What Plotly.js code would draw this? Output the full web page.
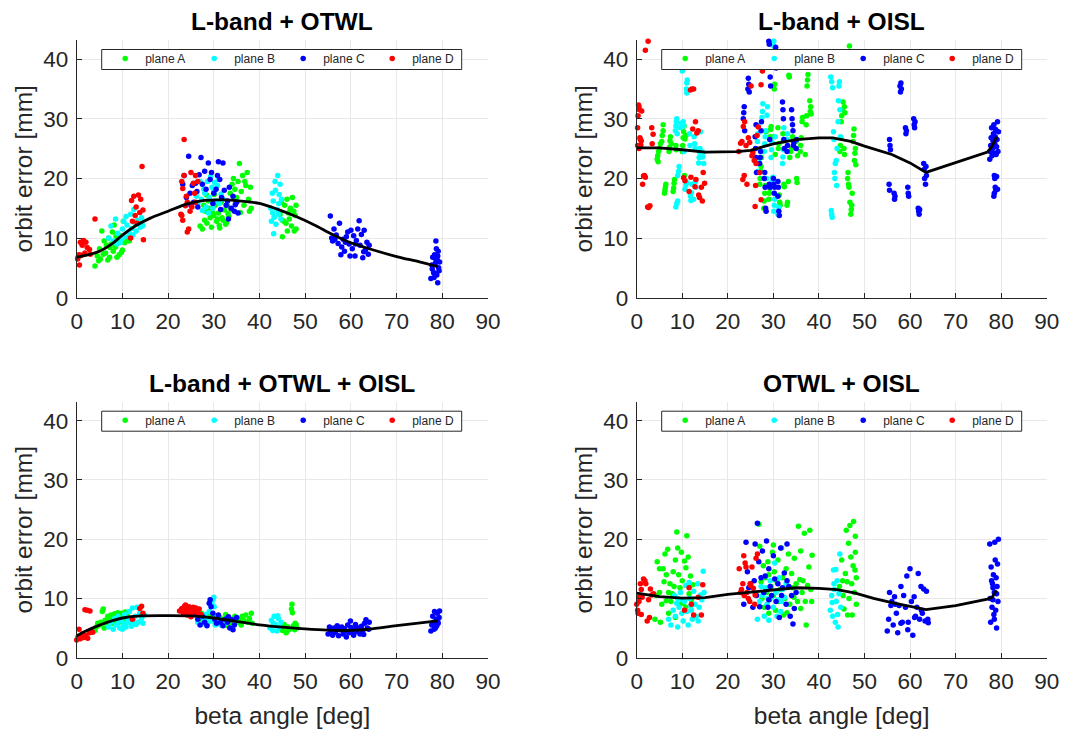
<!DOCTYPE html>
<html><head><meta charset="utf-8">
<script src="https://cdn.plot.ly/plotly-3.0.1.min.js"></script>
<style>html,body{margin:0;padding:0;background:#fff}#chart{width:1084px;height:731px}</style>
</head><body><div id="chart"></div>
<script>
const panelTitles = ['L-band + OTWL', 'L-band + OISL', 'L-band + OTWL + OISL', 'OTWL + OISL'];
const planeNames = ['plane A', 'plane B', 'plane C', 'plane D'];
const planeColors = ['#00ff00', '#00ffff', '#0000ff', '#ff0000'];

// Panel 1: L-band + OTWL  ([beta, error] pairs)
const p1A = [[4,5.3],[4.5,7],[5,8.2],[5.2,6.5],[5.5,11.2],[6,9.5],[6.3,7.5],[6.5,8.8],[7,10],[7.2,6.8],[7.5,9],[8,7.8],[8.2,12.2],[8.5,8.5],[9,9.6],[9.3,7.2],[9.6,10.4],[10,8],[10.2,12.8],[10.5,9.2],[11,10],[11.5,9.5],[7.8,11],[5.8,7.3],[6.8,6.3],[8.8,6.8],[9.8,7.6],[4.8,6.2],[7.3,8.4],[8.6,10.3],
[27,12],[27.5,11.5],[28,13],[28.2,14.5],[28.5,12.5],[29,15],[29.2,13.4],[29.5,11.8],[30,13.8],[30.3,15.5],[30.6,12.8],[31,14.2],[31.3,11.7],[31.6,16],[32,13],[32.3,14.7],[32.6,12.3],[33,15.4],[33.3,13.6],[33.6,17.5],[34,19],[34.3,20],[34.6,18.2],[35,16.8],[35.3,19.5],[35.6,22.5],[36,17.8],[36.3,20.5],[36.6,15.5],[37,18.8],[37.3,21],[37.6,16.5],[38,18.5],[38.2,15],[37.8,14.5],[36.8,19.5],[35.8,14.3],[34.8,16],[33.8,14.8],[28.8,16.2],[29.8,14.2],[30.8,13.2],[31.8,13.4],[32.8,12.6],[28.4,17.2],[27.8,15.5],[30.1,17.3],[31.2,12.1],[33.1,14.1],
[44.5,14],[45,13],[45,10.2],[45.5,15.5],[45.8,12.5],[46,16.5],[46.3,14.2],[46.5,13.2],[46.8,15],[47,12],[47.2,16.8],[47.5,14.5],[47.8,13.8],[48,11.5],[48,15.5],[46.1,11.2],[45.3,12.8],[47.6,11.2],[44.8,16],[46.7,14.8]];
const p1B = [[7,10],[7.5,12],[8,9.5],[8.5,13.2],[9,10.8],[9.5,9.2],[10,11.5],[10.5,10.2],[10.8,13.6],[11,12.2],[11.5,10.8],[12,11.6],[12.5,14.8],[12.8,12.4],[13,11.2],[13.3,13],[13.6,12.6],[13.9,11.8],[14.2,13.4],[14.5,12.1],[11.8,14],[9.8,9.8],[12.3,10.5],[8.8,9],[10.3,12.8],
[26.2,17],[26.5,15.8],[27,19.5],[27.3,16.5],[27.8,18.2],[28,17.5],[28.3,15.2],[28.6,19.5],[29,16.8],[29.3,20.3],[29.6,18.5],[30,17.8],[30.4,16.2],[30.8,18.8],[31.2,15.8],[31.6,17.4],[32,16.5],[27.5,14.6],[29.8,15],[31,19.8],[28.8,14.2],[30.2,19.3],
[42.5,15],[42.8,17.5],[43,16.2],[43.2,13.5],[43.5,18],[43.8,14.8],[44,20.5],[44.2,15.8],[44.5,19],[44.7,13.2],[43.1,10.7],[43.6,12.3],[44.3,17.3],[42.9,14.2],[44.8,16.5],[43.4,19.5],[42.6,12.8],[44.1,14]];
const p1C = [[23.2,19],[23.5,20.5],[24,16.8],[24.5,23.7],[24.8,17.5],[25.3,18.8],[25.6,16],[26,19.2],[26.3,17.8],[26.8,20.6],[27.2,23.5],[27.5,19],[28,21.2],[28.3,18.2],[28.8,22.6],[29.2,19.8],[29.5,21],[30,17.5],[30.5,18.2],[31,22.8],[31.3,19.8],[31.7,16.8],[32,22.6],[32.3,18],[32.7,15.5],[33,16.2],[33.4,18.5],[33.8,15],[34.2,17],[34.5,14.5],[35,16],[35.3,14.2],[31.5,14.8],[30.8,20.5],[29.8,15.8],[26.5,15.2],[25,15.5],[33.2,13.2],[34.7,15.6],
[55.5,13.7],[55.8,10],[56,9.5],[56.3,11.5],[56.8,10.5],[57.2,9.1],[57.5,12.5],[58,8.5],[58.3,9.8],[58.6,7.8],[59,10.2],[59.3,11],[59.6,9],[60,11.3],[60.3,8.2],[60.6,10.4],[60.9,7],[61.2,9.6],[61.5,11.5],[61.8,12.9],[62,8.8],[62.3,10.6],[62.6,6.7],[62.9,11.3],[63.2,8],[63.5,9.3],[63.8,7.3],[64,8.8],[57.8,7.2],[56.5,9.8],[59.8,7],[61,9],[58.8,9.3],[62.8,7.7],
[77.5,3.2],[77.7,5.5],[77.9,6.8],[78.1,4.2],[78.3,7.2],[78.5,5.8],[78.6,9.5],[78.8,3.8],[78.9,6.3],[79,2.5],[79.1,7.8],[79.2,5],[79.3,4.5],[78.4,6.6],[78.7,8.2],[77.8,4.8],[79.4,6],[78.2,3.4],[79,7],[78.5,4.1]];
const p1D = [[0.2,6.5],[0.5,7.2],[0.8,9.3],[1.2,8.8],[1.5,9.6],[2,9.3],[2.3,8.4],[2.8,8.1],[0.6,5.5],[1,7.1],[0.3,6.8],[1.8,7.5],[3,7.3],[4,13.2],
[12,16.3],[12.5,17],[13,15.2],[13.5,17.2],[14,16.5],[14.3,22],[14.5,14.7],[14.6,9.7],[13.8,14.3],[12.8,13.8],[13.2,12.5],[11.8,10],[12.2,12.8],
[23.5,26.5],[23,19.5],[23.2,18.3],[23.5,20.5],[24,17],[24.2,16],[23.2,13],[23,13.8],[24.5,11.5],[24.2,11],[25,21],[25.5,19.2],[26,20.5],[26.5,19.5],[24.8,14.5],[25.2,15.2],[23.8,15.4],[26,16],[22.8,14],[25.8,17.5]];

// Panel 2: L-band + OISL
const p2A = [[4.5,23.2],[4.6,23.8],[4.8,24.5],[5,25],[5.2,25.8],[5.5,26.2],[5.6,27.2],[5.8,28],[5.8,29],[4.7,22.8],[6.2,18],[6.3,18.5],[6.4,19],[6.1,17.5],[7.1,24.5],[7.2,25.2],[7.3,26.3],[7.4,27],[7.6,25.8],[8,17.8],[8.1,18.4],[8.2,19.2],[8.3,19.8],[8.6,25.5],[8.7,24.8],[10,24.5],[10.1,25.5],[10.2,26.8],[10.3,27.8],[10.4,28.8],[10.6,26.6],[10.8,27.2],[10.5,20.5],[9.5,39.5],
[27,19],[27.1,20],[27.2,21.2],[27.3,22],[27.4,23.5],[27.9,15],[28,16.2],[28.1,17.5],[28.2,18.8],[28.3,20],[28.4,27.8],[29,16.5],[29.1,17.5],[29.2,18.3],[29.3,27],[29.4,28.2],[29.5,28.7],[30.2,35],[30.3,35.8],[30.1,27],[30.4,24],[31,28.5],[31.1,25],[31.2,25.8],[31.3,17.2],[31.4,16],[31.5,15.5],[32.1,27.5],[32.2,26.3],[32.3,19],[32.4,18.6],[33,15.5],[33.1,16],[33.4,37.3],[33.5,37],[33.3,19.5],[33.6,23.5],[33.8,24.5],[34,25],[34.2,27],[35,26.2],[35.1,20],[35.2,19.3],[35.3,23.8],[35.9,24.5],[36,25.5],[36.1,26.8],[36.3,29.5],[36.4,30.2],[37,24],[37.4,35.5],[37.5,36.5],[37.6,37.4],[37.2,29],[37.3,30.5],[38,33],[38.1,31.2],[38.2,32],[38.3,30.8],
[44.6,24.5],[44.7,25.5],[44.8,26.8],[44.9,29.5],[45,30.5],[45.1,31.5],[45.3,32.8],[45.6,32],[45.7,31],[45.5,25],[45.6,24],[46.3,20],[46.4,21],[46.5,19],[46.6,18.5],[46.8,16],[46.7,42.2],[47,14],[47.1,14.8],[47.2,15.5],[47.3,17.5],[47.5,26.2],[47.6,27.2],[47.7,28.3],[47.8,23],[47.9,24.2],[48,25],[48.1,22.3]];
const p2B = [[8.5,28],[8.6,28.8],[8.7,29.5],[8.8,30],[8.9,27.5],[8.6,15.2],[8.8,15.8],[9,16.2],[9,20.5],[9.2,21.2],[9.3,22],[9.5,28.5],[9.7,29.2],[10,38],[10.1,39.5],[10.2,40.8],[10.2,29.5],[10.3,28.8],[10.4,24.5],[10.6,18.2],[10.8,18.9],[11,19.3],[10.9,35],[11,36],[11.1,36.5],[11,34.3],[11.6,27.5],[11.7,25.5],[11.8,17],[11.9,16.3],[12,17.6],[12.1,19],[12.6,27],[12.7,25.8],[12.8,25],[12.9,19.5],[13.6,22.6],[13.7,23.5],[13.8,24.4],[13.9,25],[14,27.8],[14.5,23.6],[14.6,24.4],[14.7,22.5],[13,18.5],[12.5,16.5],
[26.5,26.2],[26.6,27.5],[26.7,28.8],[26.6,21.2],[26.7,22.4],[26.8,23],[27.5,30.2],[27.6,31.2],[27.7,32.5],[28,24.5],[28.1,25.8],[28.2,27],[28.3,28],[28.5,20],[28.6,30.6],[28.7,32],[29.5,23.5],[29.6,24.8],[29.7,26],[29.8,19.5],[29.9,20.2],[30,42.2],[30.1,43],[30.1,14.5],[30.2,15.5],[30.3,16.5],[30.4,27],[31,14],[32,22.5],[32.1,23.6],[32.2,24.8],[32.3,28.5],[33,26.5],[33.1,27.5],[31.2,15.1],
[42.6,37],[42.8,36.2],[43,35.2],[43.2,27.8],[43.3,26.5],[43.4,21],[43.5,20],[43.6,22.5],[43.8,23],[42.7,14.6],[42.8,14],[42.9,13.5],[44,25],[44.2,29.5],[44.3,33],[44.4,35.5],[44.5,36.2],[44.6,31.5],[43.9,18.8],[44.7,27]];
const p2C = [[23.4,30],[23.5,31],[23.6,32],[23.7,28],[24.4,35],[24.5,36.8],[24.6,35.8],[24.7,34.5],[26,27],[26.1,25],[26.2,23.5],[26.3,21],[26.2,29],[27,22.5],[27.1,23.5],[27.2,24.5],[27.3,28],[27.4,29.5],[28,20],[28.1,21],[28.2,18.5],[28.3,15],[28.4,14.5],[29,43],[29.1,42.5],[29.2,39.5],[29.3,37],[29.4,35.5],[29.2,26.5],[29.1,19],[29.3,18.5],[30,20],[30.1,19],[30.2,17.5],[30.3,18.5],[30.5,42],[30.6,38.5],[31,19.5],[31.1,18.5],[31.2,14.5],[31.3,13.8],[31,17],[32,32.8],[32.1,31.5],[32.2,30],[32.3,26.5],[32.4,25],[33,24.5],[33.1,25.5],[34,31.5],[34.1,30],[34.2,29],[34.3,28],[34.4,25.5],[34.5,26],[35,25],[35.1,26.5],
[55.5,26.5],[55.6,25.5],[55.7,24.8],[55.4,19],[55.5,18],[56.5,17.5],[56.6,16.5],[56.7,17],[57.8,35.5],[57.9,34.5],[58,36],[58.1,35],[59,28.5],[59.1,27.5],[59.2,28],[59.5,18.5],[59.6,17.5],[59.7,17],[60.8,30],[60.9,29],[61,28.5],[61.1,29.5],[61.8,15],[61.9,14.5],[62,14],[62.1,14.8],[63,22.5],[63.1,21.5],[63.2,20],[63.4,19],[63.6,20.5],[63.5,22],
[77.5,23.2],[77.6,24.5],[77.7,25.5],[77.8,26.8],[77.9,28.5],[78,23.8],[78.1,25],[78.2,26.3],[78.3,27.5],[78.4,29],[78.5,24.2],[78.6,25.8],[78.7,27],[78.8,28.2],[78.9,24],[79,25.3],[79.1,26.5],[79.2,29.5],[79.3,24.5],[79.4,27.8],[78.5,20.5],[78.6,20],[78.7,18.5],[78.8,18],[78.4,17],[78.5,17.5],[79,20.3],[79.2,18.2]];
const p2D = [[0.2,28.5],[0.3,30.5],[0.4,32.3],[0.5,32],[0.6,31.5],[0.8,26.5],[1.0,26.3],[0.2,25.5],[0.5,25],[0.9,25.6],[1.5,20.4],[1.7,20.5],[1.9,20.2],[1.3,19],[2.4,15.2],[2.6,15.1],[2.9,15.4],[1.9,41.5],[2.5,43],[3.3,28.5],[3.6,27.4],[3.4,25.8],[0.7,26.8],[1.1,31.3],
[10.3,20.1],[10.6,19.6],[11.8,34.8],[12.1,35],[12.5,35],[12.3,28.3],[12.9,29.5],[13.2,27.6],[13.5,28],[13,19.8],[12.8,18.6],[13.6,17.2],[13.8,16.8],[14.2,18.5],[14.4,16.2],[14.6,21],[14.9,19.2],[11.5,17.8],[11.9,20.2],
[22.4,24.5],[22.8,25.9],[23.1,26.2],[23.4,28.7],[23.7,29.5],[24,25.5],[23.3,19.8],[23.6,20.5],[24.2,19],[24.5,26.8],[24.8,26],[25.1,35.5],[25.5,24.3],[25.8,23],[26.2,22.5],[26.4,27.2],[26.7,28.6],[27,21],[27.3,35.7],[27.6,38],[26,15.3],[27.3,16.4],[26.1,18.8],[25.3,23.8]];

// Panel 3: L-band + OTWL + OISL
const p3A = [[4,4.6],[4.3,5.2],[4.6,5.8],[5,5.5],[5.3,6],[5.6,7.8],[5.8,8.2],[6.2,6.3],[6.5,5.9],[6.8,7],[7.2,6.5],[7.5,7.2],[8,6.8],[8.3,7.4],[8.6,6.2],[9,7.6],[9.4,7],[9.8,7.5],[10.2,6.8],[10.6,7.7],[11,7.2],[7.8,5.8],[9.2,6],[6,5],[10,6.4],
[27,6.5],[27.3,7.5],[27.6,6],[28,7.2],[28.3,6.8],[28.6,5.8],[29,7],[29.3,6.3],[29.6,7.4],[30,6.6],[30.3,5.9],[30.6,7],[31,6.2],[31.4,6.8],[31.8,5.7],[32.2,6.5],[32.6,7.3],[33,6],[33.4,6.7],[33.8,5.6],[34.2,6.4],[34.6,7],[35,6],[35.4,6.5],[35.8,5.8],[36.2,7],[36.6,6.3],[37,7.2],[37.4,6],[37.8,6.6],[38.2,7.5],[38.4,5.8],[36,5.5],[33,5.4],
[44.5,5],[45,4.6],[45.4,5.6],[45.8,4.2],[46.2,5.2],[46.6,4.8],[47,8.2],[47.1,9],[47.2,7.6],[47.4,5.4],[47.7,4.7],[48,5.6],[48.2,5],[46,4.4],[45.2,5.3],[47.8,5.8]];
const p3B = [[7,5.2],[7.5,6],[8,4.8],[8.3,6.6],[8.7,5.5],[9,7],[9.4,5],[9.8,6.3],[10.2,5.6],[10.5,7.3],[10.8,5.2],[11.2,6.5],[11.5,7.8],[11.8,5.8],[12.2,8.4],[12.5,6.2],[12.8,7],[13.2,8.5],[13.5,6],[13.8,7.5],[14.2,6.6],[14.5,5.8],[14.8,7.2],[10,4.8],[12,5.3],[13,5.6],[9.2,6.2],[11,6],
[26.5,6],[27,7],[27.5,5.7],[28,6.5],[28.5,5.5],[29,7.8],[29.3,6.2],[29.6,9],[29.8,9.8],[30,10.2],[30.1,8.6],[30.4,6.8],[30.8,5.7],[31.2,6.5],[31.6,5.5],[32,6.2],[32.5,5.8],[33,6.8],[28.2,7.3],[30.3,5.5],
[42.3,5],[42.6,6.3],[42.9,4.6],[43.2,7],[43.5,5.6],[43.8,4.5],[44.1,6.6],[44.4,5.2],[44.7,6],[43,5.8],[44,7.1]];
const p3C = [[26,7.3],[26.5,6.5],[27,5.5],[27.5,7],[28,6],[28.5,5.4],[29,9.2],[29.2,9.8],[29.4,8.6],[29.8,7.5],[30.2,6.5],[30.6,5.8],[31,7.2],[31.5,6],[32,5.4],[32.5,6.5],[33,6],[33.5,5],[34,6.4],[34.5,5.5],[35,6.8],[34.2,4.7],[33.2,6.9],
[55,4],[55.3,5.2],[55.6,4.5],[56,3.8],[56.3,5],[56.6,4.3],[57,5.4],[57.3,3.7],[57.6,4.7],[58,5.2],[58.3,4],[58.6,4.9],[59,3.5],[59.3,5.5],[59.6,4.2],[60,5.1],[60.3,4.5],[60.6,3.8],[61,5.6],[61.3,4.4],[61.6,5],[62,4],[62.3,5.3],[62.6,4.6],[63,5.8],[63.3,6.4],[63.6,5],[63.9,4.8],[64,6],[56.8,4.9],[58.8,4.4],[60.8,4.9],[62.8,3.9],[59.9,6.2],
[77.5,4.5],[77.7,5.5],[77.9,7],[78.1,6],[78.3,7.8],[78.5,5],[78.7,6.5],[78.9,7.5],[79.1,5.8],[79.3,6.8],[79.4,7.9],[78.2,4.8],[78.8,5.4],[79,6.2]];
const p3D = [[0,3],[0.3,3.5],[0.5,4.8],[0.8,3.2],[1.2,4],[1.5,3.4],[2,3.8],[2.4,3.3],[2.8,4.2],[3.2,4.5],[3.5,4.3],[1.8,8.1],[2.3,8],[2.9,7.9],[13.8,8.3],[14.2,8.7],[14.5,7.5],[12.2,6.5],
[22.5,7.9],[23,8.3],[23.3,7.5],[23.6,8.7],[24,8],[24.3,7.7],[24.6,8.6],[24.9,8.2],[25.2,7.4],[25.5,8.5],[25.8,7.9],[26.1,8.4],[26.5,7.6],[26.8,8.2],[27.2,7.3],[24.2,7.2],[25,6.9],[23.8,8.9]];

// Panel 4: OTWL + OISL
const p4A = [[4,6.5],[4.3,10.5],[4.5,16.2],[5,15],[5,11],[5.5,9],[5.8,15],[6,12.8],[6.2,17.5],[6.5,14],[6.8,18.3],[7,11],[7.3,12.5],[7.5,9.5],[7.8,10.8],[8,14.5],[8.2,12],[8.5,16.5],[8.8,21.2],[9,18.5],[9.2,14],[9.5,11.8],[9.8,17.8],[10,13],[10.2,9.2],[10.5,16.3],[10.8,15.2],[11,20.6],[11.3,17],[11.5,10.8],[11.8,13.8],[12,9.8],[12.3,12.3],[5.2,6],[7,7.5],[8.5,6.8],[9.5,9],[6.5,9.6],[10.8,8.5],
[26.8,22.5],[27,18.8],[27.3,12.8],[27.5,10],[27.8,15.5],[28,8.5],[28.2,13.5],[28.5,11],[28.8,16.2],[29,7.5],[29.2,9.8],[29.5,12],[29.8,17.8],[30,10.5],[30.2,14.5],[30.5,8],[30.8,12.8],[31,16.5],[31.2,9.5],[31.5,11.5],[31.8,18.5],[32,13.5],[32.2,7.2],[32.5,10],[32.8,15],[33,12.2],[33.3,17.5],[33.6,9],[34,14.2],[34.3,11.8],[34.6,16.8],[35,12.5],[35.3,9.5],[35.5,22.2],[35.8,13.2],[36,18],[36.3,11],[36.5,13],[36.8,21],[37,9.5],[37.2,5.5],[37.5,12.2],[37.8,15.3],[38,21.5],[38.2,11.5],[38.5,17.3],[38.4,9.5],[36,8.3],[33,7.6],[34.5,10.2],[30,19],[29,14],
[44.5,12],[45,16.5],[45.3,10.5],[45.5,8.2],[45.8,14.2],[46,21.5],[46.2,12.8],[46.5,19.3],[46.6,10],[46.8,22.3],[47,17],[47.2,12.5],[47.3,7.2],[47.5,15.5],[47.6,23],[47.8,11],[48,17.8],[48,20.5],[48.2,13.5],[48.2,9],[46.3,7.2],[45.2,13],[47.9,14.8]];
const p4B = [[7,6.5],[7.5,5.5],[8,8],[8.3,10.5],[8.5,7],[8.8,9.2],[9,5.2],[9.3,8.5],[9.6,11],[9.9,7.5],[10.2,6.2],[10.5,9.5],[10.8,12.2],[11,7.8],[11.3,5.5],[11.6,10],[11.9,8.8],[12.2,6.5],[12.5,11.2],[12.8,9],[13.1,7],[13.4,12.5],[13.7,8.5],[14,10.6],[14.3,9.8],[14.6,14.6],[14.8,11],[10,9.8],[9,10],[12,8],[13.5,6.2],[11.5,12.7],
[26.5,6.5],[27,9.5],[27.3,12],[27.6,10.5],[28,7],[28.3,11.8],[28.6,9],[29,6.3],[29.3,13],[29.6,10.2],[30,8.5],[30.3,16],[30.6,11],[31,9.8],[31.3,13.5],[31.6,7.8],[32,11.5],[32.4,10.2],[32.8,12.5],[28.8,10],[30.8,7],[31.8,9.5],
[42.5,8],[42.8,10.5],[43,7],[43.2,14.8],[43.4,11.5],[43.6,6],[43.8,9.5],[44,13],[44.2,5.2],[44.4,10.8],[44.6,17.5],[44.8,8.5],[43.3,12.5],[42.9,9.3],[44.1,7.3],[43.7,14.9]];
const p4C = [[23.5,9],[24,19.5],[24.3,14.5],[24.6,11.8],[25,12.5],[25.5,8.5],[25.8,13],[26,19.2],[26.3,10.5],[26.5,22.7],[26.8,16.2],[27,8.6],[27.3,13.5],[27.6,18],[27.9,11],[28.2,13.8],[28.5,19.7],[28.8,8.5],[29,15],[29.3,12],[29.6,10.5],[30,17.2],[30.3,13.3],[30.6,9.5],[31,12.5],[31.3,6.8],[31.6,18.5],[32,11.8],[32.4,14.3],[32.8,9],[33,19.2],[33.4,12],[33.7,7],[34,10.5],[34.3,5.7],[34.6,8.3],[35,11],[33,13],[29,9.8],[31.8,10.5],
[55,4.5],[55.3,6.5],[55.5,11],[55.8,8.8],[56,9.5],[56.3,5.5],[56.6,10.3],[57,7.5],[57.3,4.2],[57.6,8.8],[58,12],[58.3,6],[58.6,10.5],[59,8.5],[59.3,13.8],[59.6,6],[60,15],[60.3,9.5],[60.6,3.8],[60.9,10.3],[61.2,7],[61.5,8.5],[61.8,14.2],[62.1,6.5],[62.4,12],[62.7,7.5],[63,11.6],[63.3,6.2],[63.6,11.2],[63.9,6.5],[64,5.9],[58,5.8],[56.8,9],[61,6.8],[62.5,8],[59.5,4.7],
[77.5,19.2],[77.6,10],[77.7,6],[77.8,15.3],[78,8.5],[78.1,12.5],[78.2,9.8],[78.3,14],[78.4,7.3],[78.5,11],[78.6,19.5],[78.7,16.5],[78.8,8],[78.9,13.5],[79,5],[79.1,12],[79.2,15.8],[79.3,9.5],[79.4,20],[78.5,6.5],[79,10.8],[78.2,11.8],[77.9,13]];
const p4D = [[0,9],[0.2,8],[0.3,7.5],[0.5,9.5],[0.8,12.5],[1,11.5],[1.2,10.2],[1.5,13.3],[1.8,13],[2,12.5],[2.3,6.2],[2.6,9.8],[2.8,6.8],[3,11.6],[3.3,10.6],[3.7,10.8],[1,7.3],[0.6,10.3],[11.5,11.8],[12.5,7.2],[13.5,10.2],[14.5,12.3],[14.2,7.2],[10.5,8],[12,9],
[22.5,15],[23,11.5],[23.3,12.5],[23.5,17.2],[23.8,16],[24,15.3],[24.2,11],[24.5,10],[24.8,9.5],[25,12.2],[25.3,15.3],[25.6,11.7],[25.9,9],[26.2,16.8],[26.5,17.5],[26,10.6],[23.6,10.5],[24.9,12.5],[22.8,11]];

// Trend lines
const trend1 = [[0,6.8],[2,7.1],[5,7.8],[8,9.2],[10,10.5],[13,12.1],[16,13.3],[20,14.5],[24,15.7],[28,16.3],[32,16.4],[36,16.2],[40,15.8],[44,14.8],[48,13.6],[52,12.2],[56,10.6],[60,9.2],[64,8.2],[70,6.9],[75,6],[79,5.2]];
const trend2 = [[0,25.1],[5,25.1],[10,24.8],[15,24.4],[22,24.5],[25,24.7],[30,25.8],[35,26.5],[40,26.8],[43,26.8],[47,26.2],[50,25.4],[56,24],[60,22.6],[63.5,21],[70,22.6],[77,24.4],[78,25.4],[79,27]];
const trend3 = [[0,3.7],[2,4.5],[5,5.5],[8,6.3],[10,6.7],[14,7.05],[20,7.1],[25,7.05],[30,6.7],[35,6.1],[40,5.55],[45,5.15],[50,4.85],[55,4.65],[60,4.6],[64,4.8],[70,5.4],[79,6.2]];
const trend4 = [[0,10.9],[5,10.3],[10,10.05],[15,10.15],[20,10.7],[25,11.1],[30,11.4],[35,11.8],[40,11.7],[44,11.5],[48,10.9],[52,10],[56,9.3],[60,8.7],[63.5,8.1],[70,8.8],[77,9.9],[78,10.2],[79,11.4]];

const xTicks = [0,10,20,30,40,50,60,70,80,90];
const yTicks = [0,10,20,30,40];

const panels = [
  {pts:[p1A,p1B,p1C,p1D], trend:trend1, shape:'spline'},
  {pts:[p2A,p2B,p2C,p2D], trend:trend2, shape:'linear'},
  {pts:[p3A,p3B,p3C,p3D], trend:trend3, shape:'spline'},
  {pts:[p4A,p4B,p4C,p4D], trend:trend4, shape:'linear'}
];

const FONT = 'Liberation Sans, Arial, Helvetica, sans-serif';
const W = 1084, H = 731;
const traces = [];
panels.forEach((p, i) => {
  const sfx = i === 0 ? '' : String(i + 1);
  p.pts.forEach((arr, k) => {
    traces.push({
      type: 'scatter', mode: 'markers',
      x: arr.map(d => d[0]), y: arr.map(d => d[1]),
      xaxis: 'x' + sfx, yaxis: 'y' + sfx,
      name: planeNames[k], legend: 'legend' + sfx,
      marker: {color: planeColors[k], size: 5.5, line: {width: 0}},
      cliponaxis: false, hoverinfo: 'skip'
    });
  });
  traces.push({
    type: 'scatter', mode: 'lines',
    x: p.trend.map(d => d[0]), y: p.trend.map(d => d[1]),
    xaxis: 'x' + sfx, yaxis: 'y' + sfx,
    line: {color: '#000000', width: 2.8, shape: p.shape, smoothing: 0.8},
    showlegend: false, hoverinfo: 'skip', legend: 'legend' + sfx
  });
});

// plot areas in px: left/right edges and top/bottom
const xPx = [[76.7, 488], [636.7, 1046.7]];
const yPx = [[40, 297.7], [401.7, 657.7]];
const xDom = xPx.map(a => [a[0] / W, a[1] / W]);
const yDom = yPx.map(a => [(H - a[1]) / H, (H - a[0]) / H]);

const layout = {
  width: W, height: H,
  margin: {l: 0, r: 0, t: 0, b: 0},
  paper_bgcolor: '#ffffff', plot_bgcolor: '#ffffff',
  font: {family: FONT, color: '#262626'},
  annotations: [], shapes: []
};

for (let i = 0; i < 4; i++) {
  const sfx = i === 0 ? '' : String(i + 1);
  const col = i % 2, row = Math.floor(i / 2);
  const xa = {
    domain: xDom[col], anchor: 'y' + sfx, range: [0, 90],
    tickvals: xTicks, ticktext: xTicks.map(String),
    showline: true, linecolor: '#262626', linewidth: 1,
    ticks: 'inside', ticklen: 5, tickcolor: '#262626', tickwidth: 1,
    showgrid: true, gridcolor: '#e8e8e8', gridwidth: 1, zeroline: false,
    tickfont: {size: 22.5, color: '#262626', family: FONT},
    ticklabelstandoff: 3,
    automargin: false, fixedrange: true
  };
  if (row === 1) {
    xa.title = {text: 'beta angle [deg]', font: {size: 24.5, color: '#262626', family: FONT}, standoff: 14};
  }
  const ya = {
    domain: yDom[row], anchor: 'x' + sfx, range: [0, 43.2],
    tickvals: yTicks, ticktext: yTicks.map(String),
    showline: true, linecolor: '#262626', linewidth: 1,
    ticks: 'inside', ticklen: 5, tickcolor: '#262626', tickwidth: 1,
    showgrid: true, gridcolor: '#e8e8e8', gridwidth: 1, zeroline: false,
    tickfont: {size: 22.5, color: '#262626', family: FONT},
    ticklabelstandoff: 3,
    title: {text: 'orbit error [mm]', font: {size: 24.5, color: '#262626', family: FONT}, standoff: 3},
    automargin: false, fixedrange: true
  };
  layout['xaxis' + sfx] = xa;
  layout['yaxis' + sfx] = ya;

  // legend frame (drawn as a shape under the legend entries)
  const bx0 = xPx[col][0] + 25, bx1 = xPx[col][0] + 385;
  const by0 = yPx[row][0] + 9.5, by1 = yPx[row][0] + 29.5;
  layout.shapes.push({
    type: 'rect', xref: 'paper', yref: 'paper', layer: 'above',
    x0: bx0 / W, x1: bx1 / W, y0: (H - by1) / H, y1: (H - by0) / H,
    fillcolor: '#ffffff', line: {color: '#262626', width: 1}
  });
  layout['legend' + sfx] = {
    orientation: 'h',
    x: (xPx[col][0] + 28.5) / W, xanchor: 'left',
    y: (H - (yPx[row][0] + 4)) / H, yanchor: 'top',
    bgcolor: 'rgba(0,0,0,0)', borderwidth: 0,
    font: {family: FONT, size: 12, color: '#262626'},
    entrywidth: 44, entrywidthmode: 'pixels',
    itemclick: false, itemdoubleclick: false
  };
  layout.annotations.push({
    text: '<b>' + panelTitles[i] + '</b>',
    xref: 'paper', yref: 'paper',
    x: (xDom[col][0] + xDom[col][1]) / 2, xanchor: 'center',
    y: (H - (yPx[row][0] - 18.5)) / H, yanchor: 'middle',
    showarrow: false,
    font: {family: FONT, size: 24.5, color: '#000000'}
  });
}

Plotly.newPlot('chart', traces, layout, {displayModeBar: false, staticPlot: true});
</script>
</body></html>
